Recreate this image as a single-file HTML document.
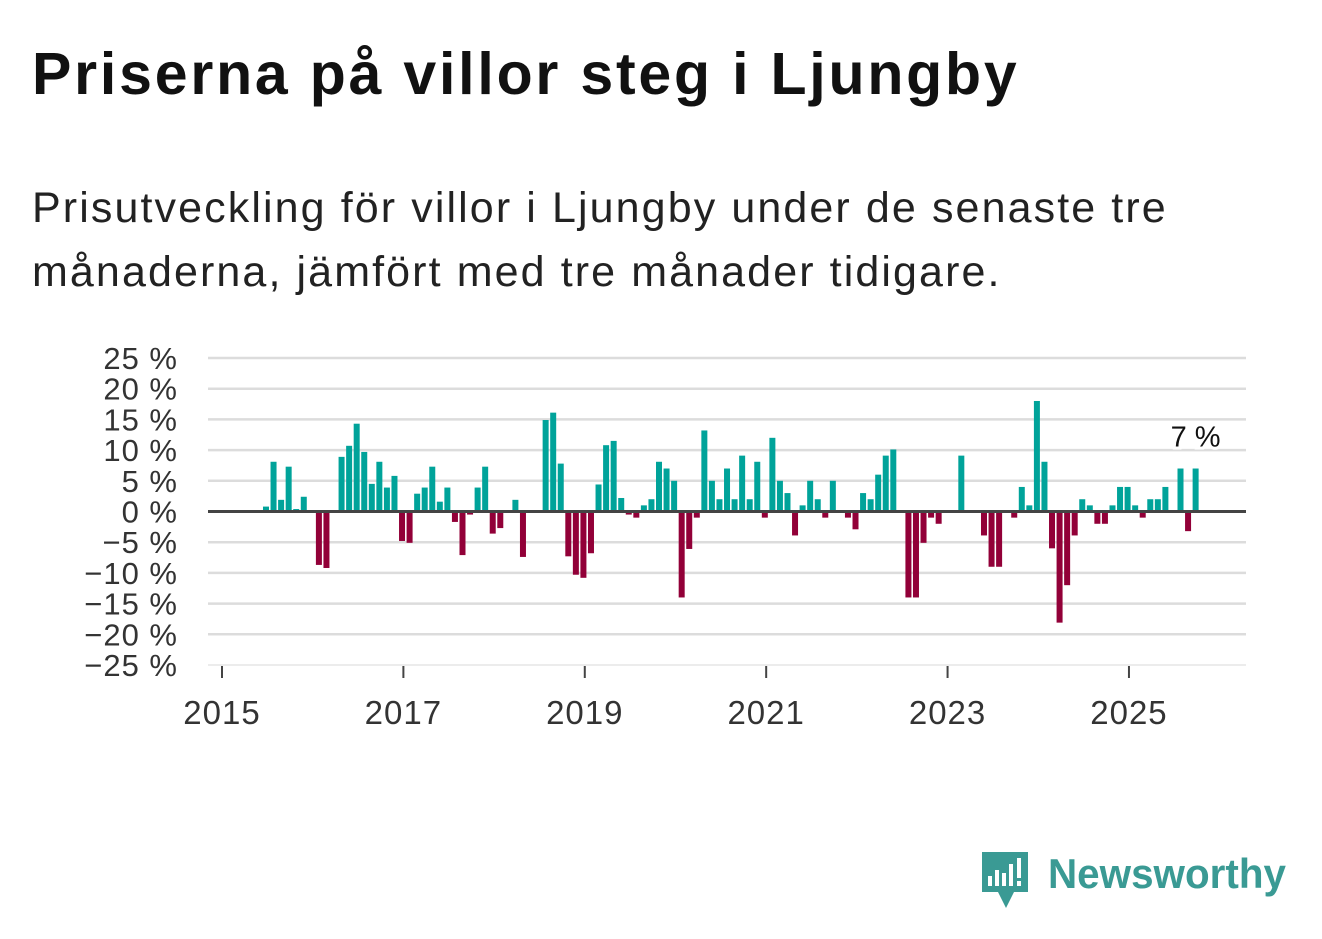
<!DOCTYPE html>
<html><head><meta charset="utf-8">
<style>
html,body{margin:0;padding:0;background:#fff;}
body{width:1322px;height:939px;overflow:hidden;position:relative;font-family:"Liberation Sans","DejaVu Sans",sans-serif;}
#title{position:absolute;left:32px;top:40px;font-size:59px;font-weight:bold;color:#111;margin:0;letter-spacing:2.8px;white-space:nowrap;}
#sub{position:absolute;left:32px;top:176px;font-size:43px;line-height:64px;color:#222;margin:0;width:1230px;letter-spacing:2.1px;}
svg{position:absolute;left:0;top:0;}
</style></head><body>
<h1 id="title">Priserna på villor steg i Ljungby</h1>
<p id="sub">Prisutveckling för villor i Ljungby under de senaste tre<br>månaderna, jämfört med tre månader tidigare.</p>
<svg id="chart" width="1322" height="939"></svg>
<script>
const startMonth = 6; // Jul 2015 (months since Jan 2015)
const values = [0.8,8.1,1.9,7.3,0.4,2.4,0,-8.7,-9.2,0,8.9,10.7,14.3,9.7,4.5,8.1,3.9,5.8,-4.8,-5.1,2.9,3.9,7.3,1.6,3.9,-1.7,-7.1,-0.5,3.9,7.3,-3.6,-2.7,0,1.9,-7.4,0,0,14.9,16.1,7.8,-7.3,-10.3,-10.8,-6.8,4.4,10.8,11.5,2.2,-0.5,-1,1,2,8.1,7,5,-14,-6.1,-1,13.2,5,2,7,2,9.1,2,8.1,-1,12,5,3,-3.9,1,5,2,-1,5,0,-1,-2.9,3,2,6,9.1,10.1,0,-14,-14,-5.1,-1,-2,0,0,9.1,0,0,-3.9,-9,-9,0,-1,4,1,18,8.1,-6,-18.1,-12,-3.9,2,1,-2,-2,1,4,4,1,-1,2,2,4,0,7,-3.2,7];
const yTicks = [25,20,15,10,5,0,-5,-10,-15,-20,-25];
const yTickLabels = ["25 %","20 %","15 %","10 %","5 %","0 %","\u22125 %","\u221210 %","\u221215 %","\u221220 %","\u221225 %"];
const xTicks = [2015,2017,2019,2021,2023,2025];
const lastLabel = "7 %";

const NS="http://www.w3.org/2000/svg";
const svg=document.getElementById('chart');
const X0=222, MPX=7.558, Y0=511.5, PPU=6.14;
function xm(m){return X0+(m-0.18)*MPX;}
function xy(year){return X0+(year-2015)*12*MPX;}
function y(v){return Y0-v*PPU;}
function mk(tag,attrs){const e=document.createElementNS(NS,tag);for(const k in attrs)e.setAttribute(k,attrs[k]);svg.appendChild(e);return e;}

yTicks.forEach((t,i)=>{
  if(t!==0){
    const g=mk('line',{x1:208,x2:1246,y1:y(t),y2:y(t),stroke:t===-25?'#e6e6e6':'#dcdcdc','stroke-width':t===-25?1.5:2.5});
    
    
  }
  const tx=mk('text',{x:178,y:y(t)+11,'text-anchor':'end','font-size':31,fill:'#333','letter-spacing':1,'font-family':'Liberation Sans, sans-serif'});
  tx.textContent=yTickLabels[i];
  
  
});
values.forEach((v,i)=>{
  if(v===0)return;
  const cx=xm(startMonth+i);
  const r=mk('rect',{x:cx-3,y:v>0?y(v):Y0,width:6,height:Math.abs(v)*PPU,fill:v>0?'#00a39a':'#920038'});
  
  
});
const zl=mk('line',{x1:208,x2:1246,y1:Y0,y2:Y0,stroke:'#444','stroke-width':3});


xTicks.forEach(yr=>{
  const tk=mk('line',{x1:xy(yr),x2:xy(yr),y1:666,y2:678,stroke:'#444','stroke-width':2});
  
  
  const t=mk('text',{x:xy(yr),y:724,'text-anchor':'middle','font-size':33,fill:'#333','letter-spacing':1,'font-family':'Liberation Sans, sans-serif'});
  t.textContent=yr;
  
  
});
const li=values.length-1;
const lbl=mk('text',{x:xm(startMonth+li),y:y(values[li])-22,'text-anchor':'middle','font-size':29,fill:'#111',stroke:'#fff','stroke-width':6,'paint-order':'stroke','font-family':'Liberation Sans, sans-serif'});
lbl.textContent=lastLabel;


</script>
<svg width="1322" height="939" style="pointer-events:none">
  <path d="M982 852 h46 v40 h-14 l-8 16 l-8 -16 h-16 z" fill="#3a9a94"/>
  <rect x="988" y="876" width="4" height="10" fill="#fff"/>
  <rect x="995" y="870" width="4" height="16" fill="#fff"/>
  <rect x="1002" y="873" width="4" height="13" fill="#fff"/>
  <rect x="1009" y="864" width="4" height="22" fill="#fff"/>
  <rect x="1017" y="858" width="4" height="20" fill="#fff"/>
  <rect x="1017" y="881" width="4" height="5" fill="#fff"/>
  <text x="1048" y="888" font-size="42" font-weight="bold" fill="#3a9a94" font-family="Liberation Sans, sans-serif" textLength="238" lengthAdjust="spacingAndGlyphs">Newsworthy</text>
</svg>
</body></html>
